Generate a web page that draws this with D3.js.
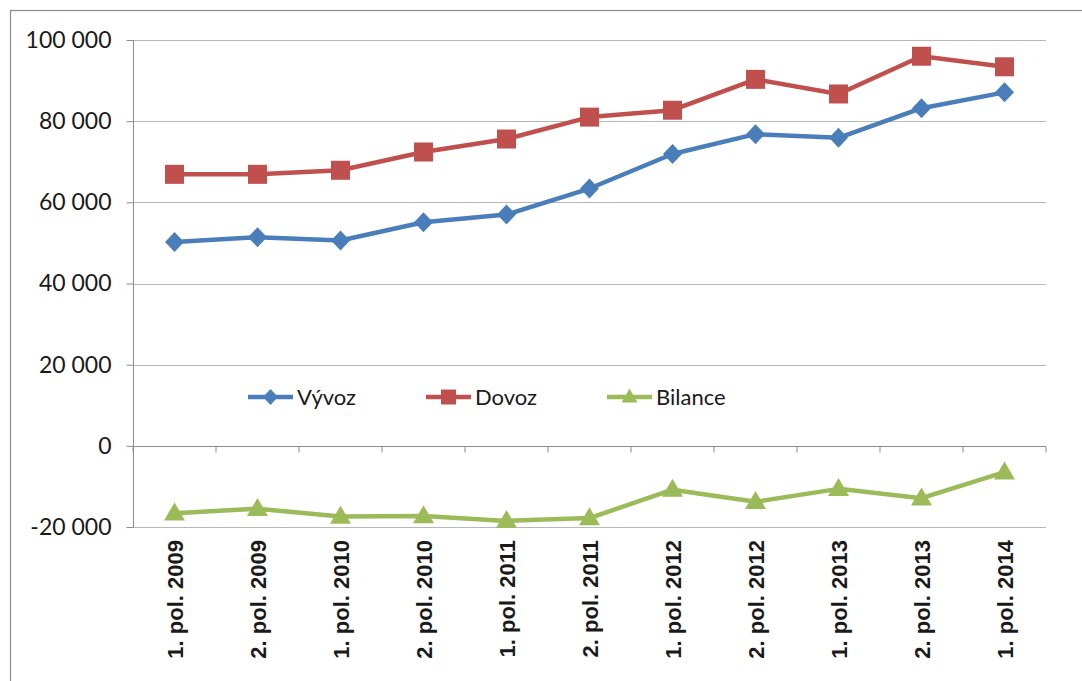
<!DOCTYPE html>
<html><head><meta charset="utf-8">
<script src="https://cdn.jsdelivr.net/npm/d3@7"></script>
<style>body{margin:0;background:#fff}svg{display:block}</style>
</head><body>
<svg id="c" width="1082" height="681"></svg>
<script>
const categories = ["1. pol. 2009","2. pol. 2009","1. pol. 2010","2. pol. 2010","1. pol. 2011","2. pol. 2011","1. pol. 2012","2. pol. 2012","1. pol. 2013","2. pol. 2013","1. pol. 2014"];
const vyvoz   = [50200, 51400, 50600, 55100, 57000, 63400, 71900, 76800, 75900, 83200, 87100];
const dovoz   = [66900, 66900, 67900, 72400, 75600, 81000, 82700, 90300, 86700, 96000, 93400];
const bilance = [-16600, -15500, -17400, -17300, -18500, -17800, -10800, -13800, -10600, -12900, -6500];
const yTicks  = [-20000, 0, 20000, 40000, 60000, 80000, 100000];
const seriesNames = ["Vývoz", "Dovoz", "Bilance"];
const colors = ["#4A7EBB", "#C0504D", "#9BBB59"];

const svg = d3.select("#c");
svg.append("rect").attr("x",10.5).attr("y",10.5).attr("width",1100).attr("height",700)
  .attr("fill","none").attr("stroke","#8c8c8c").attr("stroke-width",1.2);

const x = d3.scaleBand().domain(categories).range([133,1046]).padding(0);
const y = d3.scaleLinear().domain([-20000,100000]).range([527,40]);
const cx = d => x(d) + x.bandwidth()/2;
const fmt = v => (v < 0 ? "-" : "") + d3.format(",")(Math.abs(v)).replace(/,/g," ");

// gridlines
svg.append("g").selectAll("line").data(yTicks.filter(t=>t!==0)).join("line")
  .attr("x1",133).attr("x2",1046).attr("y1",d=>Math.round(y(d))+0.5).attr("y2",d=>Math.round(y(d))+0.5)
  .attr("stroke","#b8b8b8").attr("stroke-width",1.2);

// y axis
const yAxis = d3.axisLeft(y).tickValues(yTicks).tickSize(7).tickPadding(15).tickFormat(fmt);
const gy = svg.append("g").attr("transform","translate(133.5,0)").call(yAxis);
gy.select(".domain").attr("stroke","#8c8c8c").attr("d","M0,40V527");
gy.selectAll(".tick line").attr("stroke","#8c8c8c");
gy.selectAll(".tick text").attr("font-family","Lato, sans-serif").attr("font-size",23).attr("fill","#1a1a1a");

// x axis at 0
const gx = svg.append("g").attr("transform",`translate(0,${Math.round(y(0))+0.5})`);
gx.append("line").attr("x1",133).attr("x2",1046).attr("stroke","#8c8c8c").attr("stroke-width",1.2);
gx.selectAll("line.t").data(d3.range(categories.length+1)).join("line").attr("class","t")
  .attr("x1",i=>133+i*x.bandwidth()).attr("x2",i=>133+i*x.bandwidth()).attr("y1",0).attr("y2",6)
  .attr("stroke","#8c8c8c");

// category labels
svg.append("g").selectAll("text").data(categories).join("text")
  .attr("transform",d=>`translate(${cx(d)+8},540) rotate(-90)`)
  .attr("text-anchor","end").attr("font-family","Liberation Sans, Arial, sans-serif")
  .attr("font-weight","bold").attr("font-size",22).attr("fill","#1a1a1a").text(d=>d);

// custom diamond: width w, height h
const diamond = (w,h) => ({draw(ctx){ctx.moveTo(0,-h/2);ctx.lineTo(w/2,0);ctx.lineTo(0,h/2);ctx.lineTo(-w/2,0);ctx.closePath();}});
const square = s => ({draw(ctx){ctx.rect(-s/2,-s/2,s,s);}});
const triangle = (w,h) => ({draw(ctx){ctx.moveTo(0,-h*0.6);ctx.lineTo(w/2,h*0.4);ctx.lineTo(-w/2,h*0.4);ctx.closePath();}});

const line = d3.line().x((d,i)=>cx(categories[i])).y(d=>y(d));
const data = [vyvoz, dovoz, bilance];
const shapes = [diamond(19,20), square(19), triangle(21,18)];
const legShapes = [diamond(15,16), square(15), triangle(16,14)];

data.forEach((s,k)=>{
  svg.append("path").datum(s).attr("d",line).attr("fill","none").attr("stroke",colors[k]).attr("stroke-width",4.5).attr("stroke-linejoin","round");
  svg.append("g").selectAll("path").data(s).join("path")
    .attr("transform",(d,i)=>`translate(${cx(categories[i])},${y(d)})`)
    .attr("d",d3.symbol().type(shapes[k]).size(1)).attr("fill",colors[k]);
});

// legend
const legX = [248, 426, 607];
const legY = 397;
seriesNames.forEach((n,k)=>{
  const g = svg.append("g").attr("transform",`translate(${legX[k]},${legY})`);
  g.append("line").attr("x1",0).attr("x2",45).attr("stroke",colors[k]).attr("stroke-width",4.5);
  g.append("path").attr("transform","translate(22.5,0)")
    .attr("d",d3.symbol().type(legShapes[k]).size(1)).attr("fill",colors[k]);
  g.append("text").attr("x",49).attr("y",8).attr("font-family","Lato, sans-serif").attr("font-size",22).attr("fill","#1a1a1a").text(n);
});
</script>
</body></html>
